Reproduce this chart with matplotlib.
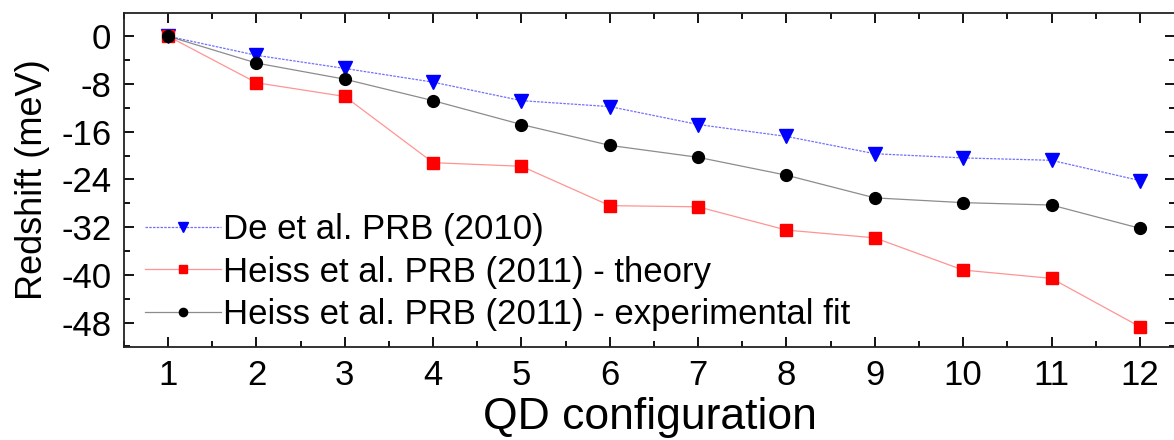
import matplotlib
matplotlib.use("Agg")
import matplotlib.pyplot as plt
from matplotlib.ticker import MultipleLocator

plt.rcParams['font.family'] = ['Liberation Sans', 'DejaVu Sans']
plt.rcParams['axes.unicode_minus'] = False

# data
config = [1, 2, 3, 4, 5, 6, 7, 8, 9, 10, 11, 12]
de_2010 = [0, -3.2, -5.4, -7.7, -10.8, -11.8, -14.8, -16.8, -19.7, -20.4, -20.8, -24.2]
heiss_theory = [0, -7.8, -10.1, -21.2, -21.8, -28.4, -28.6, -32.5, -33.8, -39.2, -40.6, -48.7]
heiss_fit = [0, -4.5, -7.2, -10.8, -14.8, -18.3, -20.3, -23.3, -27.1, -27.9, -28.3, -32.2]

labels = ['De et al. PRB (2010)',
          'Heiss et al. PRB (2011) - theory',
          'Heiss et al. PRB (2011) - experimental fit']

fig = plt.figure(figsize=(11.74, 4.40), dpi=100)
ax = fig.add_axes([0.1056, 0.2114, 0.8954, 0.7591])

ax.plot(config, de_2010, color=(0.2, 0.2, 1.0, 0.7), lw=0.9, ls=(0, (2, 1)),
        marker='v', ms=10, mfc='#0000ff', mec='#0000ff', label=labels[0])
ax.plot(config, heiss_theory, color=(1.0, 0.3, 0.3, 0.6), lw=0.9,
        marker='s', ms=8, mfc='#ff0000', mec='#ff0000', label=labels[1])
ax.plot(config, heiss_fit, color=(0.25, 0.25, 0.25, 0.6), lw=0.9,
        marker='o', ms=8.5, mfc='black', mec='black', label=labels[2])

ax.set_xlim(0.5, 12.4)
ax.set_ylim(-52.1, 3.9)
ax.set_xticks(config)
ax.set_yticks([0, -8, -16, -24, -32, -40, -48])
ax.xaxis.set_minor_locator(MultipleLocator(0.5))
ax.yaxis.set_minor_locator(MultipleLocator(4))
ax.tick_params(which='both', direction='in', top=True, right=True, width=1.3)
ax.tick_params(which='major', length=7, labelsize=25, pad=9)
ax.tick_params(which='minor', length=4)
for s in ax.spines.values():
    s.set_linewidth(1.3)
    s.set_color('#222222')

ax.set_xlabel('QD configuration', fontsize=32, labelpad=3)
ax.set_ylabel('Redshift (meV)', fontsize=26, labelpad=8)

leg = ax.legend(loc='lower left', bbox_to_anchor=(0.005, 0.0), frameon=False,
                fontsize=25, handlelength=2.2, handletextpad=0.05,
                labelspacing=0.28, borderaxespad=0.05, markerscale=0.7)

fig.savefig('out.png', dpi=100)
